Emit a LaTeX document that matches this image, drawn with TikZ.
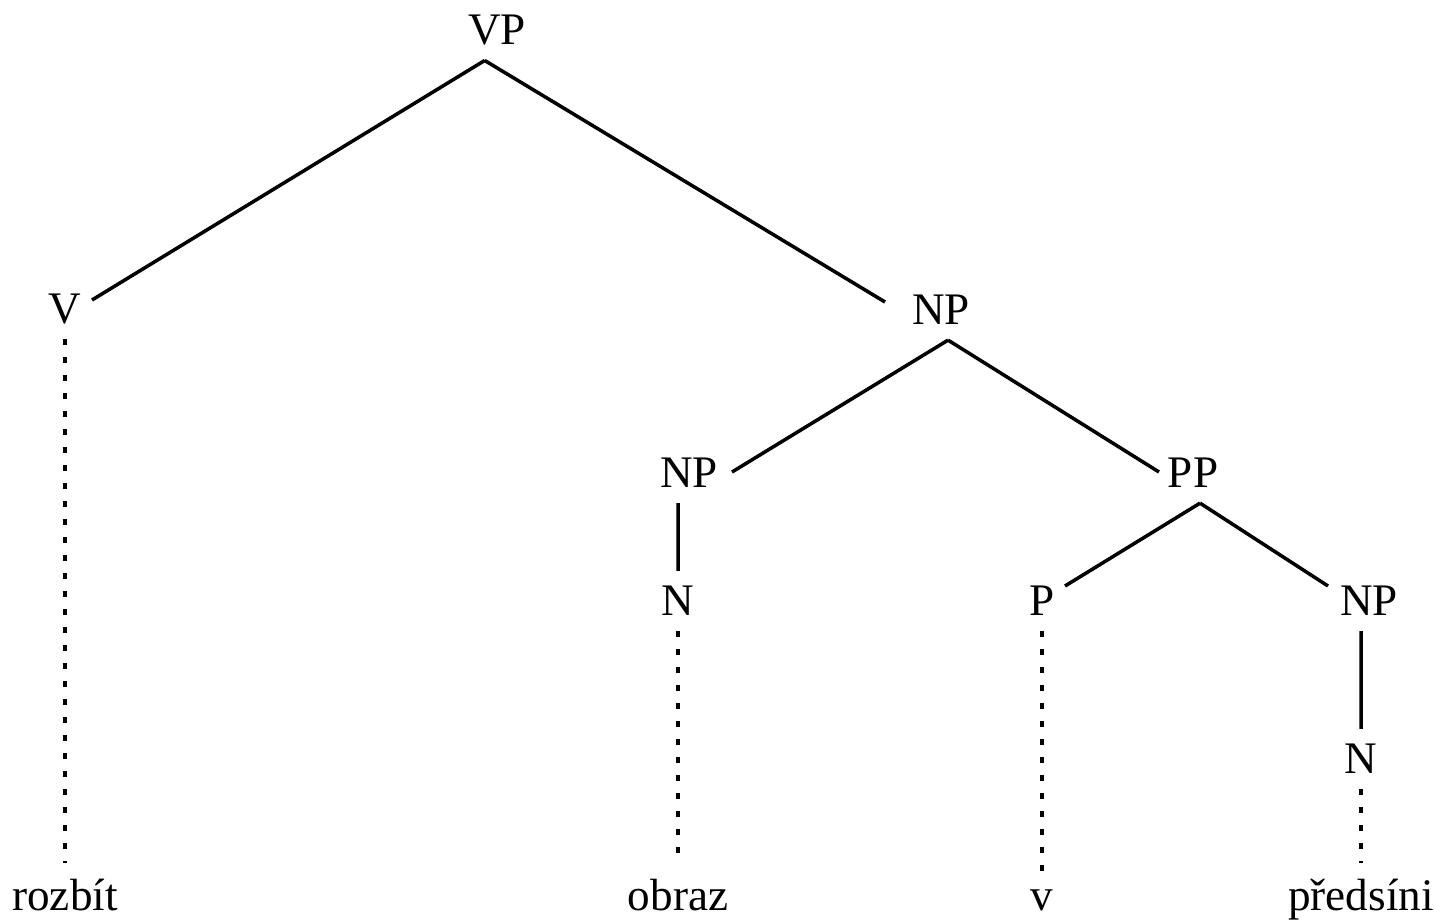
\documentclass[tikz,border=0pt]{standalone}
\usepackage{fontspec}
\setmainfont{Liberation Serif}
\usetikzlibrary{positioning}
\tikzset{
-, % plain edges, no tips
every node/.style={font=\fontsize{25.7}{30}\selectfont, inner sep=0.3cm}, % labels of the tree
word/.style={anchor=base}, % the words at the bottom sit on one baseline
branch/.style={line width=2pt}, % solid edge between two categories
leafline/.style={line width=2pt, dash pattern=on 0.12cm off 0.24cm}, % dotted edge down to a word
}

\begin{document}
\begin{tikzpicture}[x=0.02cm, y=-0.02cm]
      \useasboundingbox (0,0) rectangle (1435,920);
      \node (vp) at (497,30) {VP};
      \node (v) at (65,309) {V};
      \node (np) at (941,310) {NP};
      \node (npo) at (689,473) {NP};
      \node (pp) at (1193,473) {PP};
      \node (no) at (678,601) {N};
      \node (p) at (1042,601) {P};
      \node (npp) at (1369,601) {NP};
      \node (np2) at (1361,759) {N};
      \node[word] (rozbit) at (65,910) {rozbít};
      \node[word] (obraz) at (678,910) {obraz};
      \node[word] (vv) at (1042,910) {v};
      \node[word] (predsini) at (1361,910) {předsíni};

      \draw[branch] ([xshift=-7]vp.south) -- ([shift={(27,-9)}]v.center)
      ([xshift=-7]vp.south) -- ([shift={(-56,-8)}]np.center)
      ([xshift=4]np.south) -- ([shift={(43,-1)}]npo.center)
      ([xshift=4]np.south) -- ([shift={(-34,-1)}]pp.center)
      ([xshift=4]pp.south) -- ([shift={(23,-15)}]p.center)
      ([xshift=4]pp.south) -- ([shift={(-41,-15)}]npp.center)
      (no.north |- npo.south) -- (no.north)
      (np2.north |- npp.south) -- (np2.north);

      \draw[leafline] (v.south) -- (rozbit.north -| v.south)
      (no.south) -- (obraz.north -| no.south)
      (p.south) -- (vv.north -| p.south)
      (np2.south) -- (predsini.north -| np2.south);
    \end{tikzpicture}
\end{document}
